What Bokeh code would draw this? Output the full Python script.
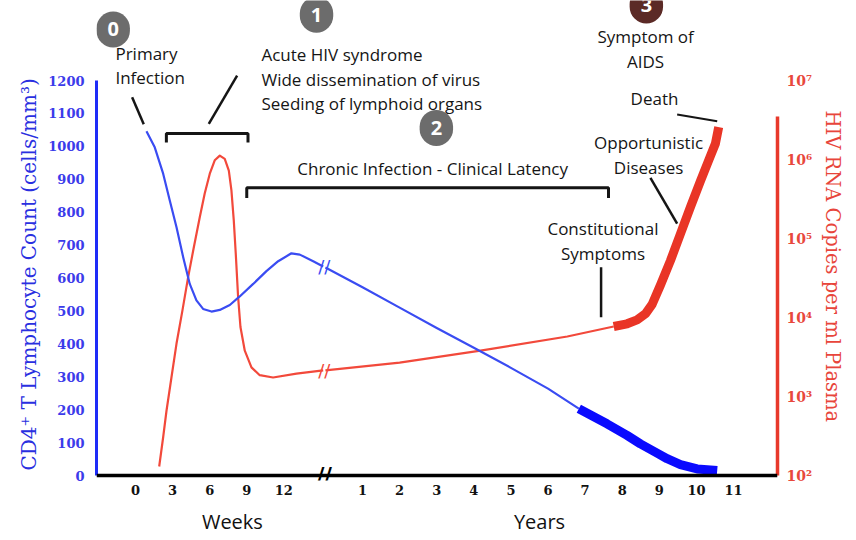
import numpy as np
from bokeh.plotting import figure
from bokeh.models import (Range1d, LogScale, LogAxis, LinearAxis, FixedTicker, Label, Span, Title)
from bokeh.embed import file_html
from bokeh.resources import INLINE

# ---------------- data ----------------
week_ticks = [0, 3, 6, 9, 12]
year_ticks = [1, 2, 3, 4, 5, 6, 7, 8, 9, 10, 11]
cd4_ticks = [0, 100, 200, 300, 400, 500, 600, 700, 800, 900, 1000, 1100, 1200]
rna_ticks = [1e2, 1e3, 1e4, 1e5, 1e6, 1e7]
rna_tick_labels = ["10²", "10³", "10⁴", "10⁵", "10⁶", "10⁷"]

# CD4+ T cell count (cells/mm3)
cd4_weeks = [0.89, 1.56, 2.24, 2.78, 3.32, 3.86, 4.39, 4.93, 5.47, 6.15,
             6.82, 7.63, 8.43, 9.52, 10.59, 11.54, 12.61, 13.29, 14.37, 15.18]
cd4_weeks_val = [1046, 997, 917, 835, 754, 663, 582, 532, 506, 498,
                 503, 518, 544, 582, 621, 651, 675, 671, 651, 635]
cd4_years = [0, 1, 2, 3, 4, 5, 6, 6.83]
cd4_years_val = [632, 572, 510, 448, 388, 327, 264, 203]
cd4_aids_years = [6.83, 7.59, 8.13, 8.49, 8.94, 9.21, 9.57, 10.02, 10.56]
cd4_aids_val = [203, 157, 122, 96, 68, 51, 33, 20, 15]

# HIV RNA copies per ml plasma
rna_weeks = [1.92, 2.24, 2.51, 2.91, 3.32, 3.80, 4.26, 4.72, 5.20, 5.60,
             6.01, 6.41, 6.82, 7.22, 7.55, 7.76, 7.95, 8.11, 8.30, 8.49,
             8.84, 9.38, 10.05, 11.13, 13.02, 15.18]
rna_weeks_val = [130, 305, 660, 1740, 4680, 12300, 32400, 77600, 186000, 372000,
                 661000, 977000, 1120000, 1020000, 724000, 407000, 170000, 64600, 18200, 7590,
                 3800, 2340, 1860, 1740, 1950, 2140]
rna_years = [0, 2, 4.18, 6.52, 7.77]
rna_years_val = [2140, 2690, 3800, 5750, 7690]
rna_aids_years = [7.77, 8.13, 8.40, 8.63, 8.81, 9.03, 9.30, 9.57, 9.84, 10.11, 10.33, 10.51, 10.60]
rna_aids_val = [7690, 8320, 9330, 11200, 14800, 25700, 52500, 115000, 251000, 537000,
                977000, 1580000, 2570000]


# broken time axis: one step = 3 weeks, then years after the break
def wpos(w):
    return [float(v) / 3.0 for v in np.atleast_1d(w)]


def ypos(y):
    return [5.12 + float(v) for v in np.atleast_1d(y)]


tick_pos = wpos(week_ticks) + ypos(year_ticks)
tick_labels = [str(t) for t in week_ticks] + [str(t) for t in year_ticks]
break_pos = (wpos(cd4_weeks[-1])[0] + ypos(cd4_years[0])[0]) / 2
unit_pos = [wpos(7.84)[0], ypos(5.77)[0]]
unit_labels = ["Weeks", "Years"]

BLUE_THIN = "#3a4cf2"
BLUE_THICK = "#0a0aff"
RED_THIN = "#f2493b"
RED_THICK = "#e93526"
INK = "#151515"

# 1200 cells <-> 5 decades of copies; the frame reaches above 1200 for the notes
CD4_LO, CD4_HI = -1200 * 5 / 395, 1200 * 475 / 395
p = figure(width=856, height=540, x_range=Range1d(-1.05, 17.305), y_range=Range1d(CD4_LO, CD4_HI),
           output_backend="svg", toolbar_location=None,
           min_border_left=96, min_border_right=79, min_border_top=0, min_border_bottom=60)
p.title.visible = False
p.outline_line_color = None
p.xgrid.visible = False
p.ygrid.visible = False
p.background_fill_color = "white"
p.border_fill_color = "white"

# bottom axis (tick labels) + baseline
xa = p.xaxis[0]
xa.ticker = FixedTicker(ticks=tick_pos)
xa.major_label_overrides = {t: l for t, l in zip(tick_pos, tick_labels)}
xa.axis_line_color = None
xa.major_tick_line_color = None
xa.minor_tick_line_color = None
xa.major_tick_out = 0
xa.major_label_standoff = 4
xa.major_label_text_font = "DejaVu Serif"
xa.major_label_text_font_style = "bold"
xa.major_label_text_font_size = "13px"
xa.major_label_text_color = "#111111"
p.add_layout(Span(location=0, dimension="width", line_color="black", line_width=3.5))

ua = LinearAxis(ticker=FixedTicker(ticks=unit_pos), axis_line_color=None,
                major_tick_line_color=None, minor_tick_line_color=None, major_tick_out=0,
                major_label_standoff=10, major_label_text_font="Open Sans",
                major_label_text_font_size="20px", major_label_text_color="#111111")
ua.major_label_overrides = {t: l for t, l in zip(unit_pos, unit_labels)}
p.add_layout(ua, "below")

# left axis
ya = p.yaxis[0]
ya.ticker = FixedTicker(ticks=cd4_ticks)
ya.bounds = (0, 1200)
ya.axis_line_color = "#1e2cf7"
ya.axis_line_width = 3
ya.major_tick_line_color = None
ya.minor_tick_line_color = None
ya.major_tick_out = 0
ya.major_label_standoff = 12
ya.major_label_text_font = "DejaVu Serif"
ya.major_label_text_font_style = "bold"
ya.major_label_text_font_size = "13px"
ya.major_label_text_color = "#3b3bea"
p.add_layout(Title(text="CD4⁺ T Lymphocyte Count (cells/mm³)", align="left", offset=10,
                   text_font="DejaVu Serif", text_font_style="normal", text_font_size="20px",
                   text_color="#2a2fe0"), "left")

# right log axis
p.extra_y_ranges = {"rna": Range1d(10 ** (2 - 5 / 79), 10 ** (2 + 475 / 79))}
p.extra_y_scales = {"rna": LogScale()}
rline = LogAxis(y_range_name="rna", ticker=FixedTicker(ticks=[]), bounds=(1e2, 10 ** 6.55),
                axis_line_color="#e8392b", axis_line_width=3.5,
                major_tick_line_color=None, minor_tick_line_color=None,
                major_tick_out=0, minor_tick_out=0,
                major_label_text_font_size="0px", major_label_standoff=0)
p.add_layout(rline, "right")
rax = LogAxis(y_range_name="rna", ticker=FixedTicker(ticks=rna_ticks),
              axis_line_color=None, major_tick_line_color=None, minor_tick_line_color=None,
              major_tick_out=0, minor_tick_out=0, major_label_standoff=9,
              major_label_text_font="DejaVu Serif", major_label_text_font_style="bold",
              major_label_text_font_size="14px", major_label_text_color="#e8483c")
rax.major_label_overrides = {t: l for t, l in zip(rna_ticks, rna_tick_labels)}
p.add_layout(rax, "right")
p.add_layout(Title(text="HIV RNA Copies per ml Plasma", align="left", offset=110,
                   text_font="DejaVu Serif", text_font_style="normal", text_font_size="19.5px",
                   text_color="#e8453b"), "right")

# ---------------- curves ----------------
p.line(wpos(rna_weeks), rna_weeks_val, y_range_name="rna", line_color=RED_THIN, line_width=2.2,
       line_join="round")
p.line(ypos(rna_years), rna_years_val, y_range_name="rna", line_color=RED_THIN, line_width=2.2,
       line_join="round")
p.line(ypos(rna_aids_years), rna_aids_val, y_range_name="rna", line_color=RED_THICK, line_width=9,
       line_join="round")

p.line(wpos(cd4_weeks), cd4_weeks_val, line_color=BLUE_THIN, line_width=2.2, line_join="round")
p.line(ypos(cd4_years), cd4_years_val, line_color=BLUE_THIN, line_width=2.2, line_join="round")
p.line(ypos(cd4_aids_years), cd4_aids_val, line_color=BLUE_THICK, line_width=9, line_join="round")


# ---------------- annotations ----------------
def note(x, y, text, align="center", size="17px", color=INK, font="Open Sans", style="normal", **kw):
    p.add_layout(Label(x=x, y=y, text=text, text_align=align, text_baseline="middle",
                       text_font=font, text_font_size=size, text_color=color,
                       text_font_style=style, **kw))


def badge(x, y, num, fill):
    p.add_layout(Label(x=x, y=y, text=num, text_align="center", text_baseline="middle",
                       text_font="Open Sans", text_font_style="bold", text_font_size="20px",
                       text_color="white", background_fill_color=fill, border_radius=18,
                       padding=11))


def stroke(xs, ys, width=2.5):
    p.line(xs, ys, line_color=INK, line_width=width, line_cap="butt")


# break marks
note(break_pos, 0, "//", size="21px", color="black", font="DejaVu Sans", style="bold")
note(break_pos, cd4_weeks_val[-1], "//", size="18px", color=BLUE_THIN, font="DejaVu Sans")
p.add_layout(Label(x=break_pos, y=rna_weeks_val[-1], y_range_name="rna", text="//",
                   text_align="center", text_baseline="middle", text_font="DejaVu Sans",
                   text_font_size="18px", text_color=RED_THIN))

# brackets
stroke(wpos([2.5, 2.5, 9.1, 9.1]), [1012, 1039, 1039, 1012], 3)
stroke(wpos([9.0, 9.0]) + ypos([7.63, 7.63]), [843, 874, 874, 843], 3)

# pointer lines
stroke(wpos([-0.27, 0.67]), [1149, 1067])
stroke(wpos([8.22, 5.93]), [1215, 1068])
stroke(ypos([7.43, 7.43]), [633, 481])
stroke(ypos([8.76, 9.48]), [904, 765])
stroke(ypos([9.48, 10.56]), [1097, 1076], 2)

# texts
note(wpos(-1.62)[0], 1282, "Primary", align="left")
note(wpos(-1.62)[0], 1208, "Infection", align="left")
note(wpos(10.19)[0], 1279, "Acute HIV syndrome", align="left")
note(wpos(10.19)[0], 1202, "Wide dissemination of virus", align="left")
note(wpos(10.19)[0], 1129, "Seeding of lymphoid organs", align="left")
note(ypos(2.89)[0], 932, "Chronic Infection - Clinical Latency")
note(ypos(8.63)[0], 1334, "Symptom of")
note(ypos(8.63)[0], 1258, "AIDS")
note(ypos(8.87)[0], 1144, "Death")
note(ypos(8.71)[0], 1011, "Opportunistic")
note(ypos(8.71)[0], 935, "Diseases")
note(ypos(7.48)[0], 749, "Constitutional")
note(ypos(7.48)[0], 674, "Symptoms")

# stage badges
badge(wpos(-1.8)[0], 1355, "0", "#6c6c6c")
badge(wpos(14.64)[0], 1400, "1", "#6c6c6c")
badge(ypos(2.99)[0], 1056, "2", "#6c6c6c")
badge(ypos(8.65)[0], 1428, "3", "#5b2a26")

open("out.html", "w").write(file_html(p, INLINE))
